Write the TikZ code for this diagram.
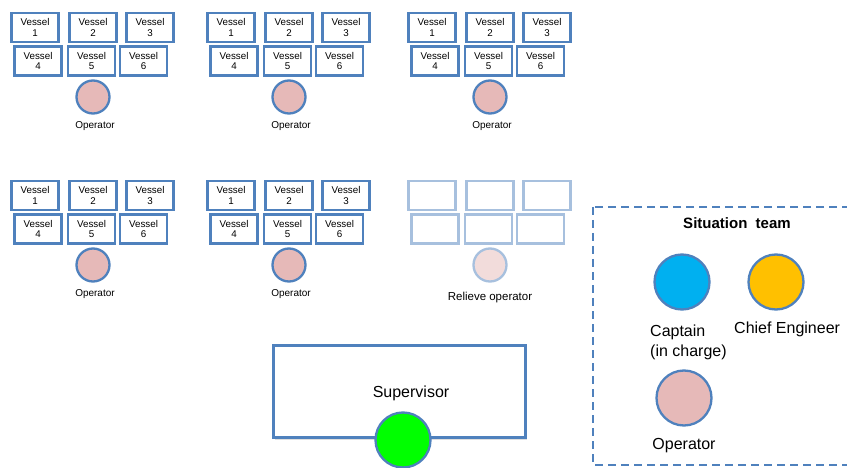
\documentclass[tikz,border=0pt]{standalone}
\usepackage{fontspec}
\setmainfont{Liberation Sans}
\usetikzlibrary{shadows}
\definecolor{boxblue}{RGB}{79,129,189}
\definecolor{oppink}{RGB}{230,185,184}
\definecolor{capblue}{RGB}{0,176,240}
\definecolor{chiefor}{RGB}{255,192,0}
\definecolor{supgreen}{RGB}{0,255,0}
\tikzset{
  vboxbase/.style={line width=2.3pt, fill=white, minimum width=47pt, minimum height=29pt,
    inner sep=0pt, align=center, font=\fontsize{9.8}{10.8}\selectfont},
  vbox/.style={vboxbase, draw=boxblue,
    drop shadow={opacity=0.25, shadow xshift=1pt, shadow yshift=-1.2pt}},
  fvbox/.style={vboxbase, draw=boxblue!50},
  opcircle/.style={circle, draw=boxblue, line width=2.3pt, fill=oppink, minimum size=33pt, inner sep=0pt},
  fopcircle/.style={circle, draw=boxblue!50, line width=2.3pt, fill=oppink!50, minimum size=33pt, inner sep=0pt},
  bigcircle/.style={circle, draw=boxblue, line width=2.3pt, minimum size=55pt, inner sep=0pt},
  smalllabel/.style={font=\fontsize{10}{12}\selectfont, inner sep=0pt},
  biglabel/.style={font=\fontsize{16}{20}\selectfont, inner sep=0pt},
}
\begin{document}
\begin{tikzpicture}[x=1pt,y=-1pt]
\useasboundingbox (0,0) rectangle (847,468);
\clip (0,0) rectangle (847,468);
% vessel groups
\foreach \g/\dx/\dy in {a/0/0, b/196/0, c/397/0, d/0/168, e/196/168}{
  \begin{scope}[shift={(\dx,\dy)}]
    \node[vbox] (\g v1) at (35,27.5) {Vessel\\1};
    \node[vbox] (\g v2) at (93,27.5) {Vessel\\2};
    \node[vbox] (\g v3) at (150,27.5) {Vessel\\3};
    \node[vbox] (\g v4) at (38,61) {Vessel\\4};
    \node[vbox] (\g v5) at (91.5,61) {Vessel\\5};
    \node[vbox] (\g v6) at (143.5,61) {Vessel\\6};
    \node[opcircle] (\g op) at (93,97) {};
    \node[smalllabel] (\g lab) at (95,126) {Operator};
  \end{scope}
}
% relieve group (faded)
\begin{scope}[shift={(397,168)}]
  \node[fvbox] (fv1) at (35,27.5) {};
  \node[fvbox] (fv2) at (93,27.5) {};
  \node[fvbox] (fv3) at (150,27.5) {};
  \node[fvbox] (fv4) at (38,61) {};
  \node[fvbox] (fv5) at (91.5,61) {};
  \node[fvbox] (fv6) at (143.5,61) {};
  \node[fopcircle] (fop) at (93,97) {};
\end{scope}
\node[font=\fontsize{11.5}{14}\selectfont, inner sep=0pt] (flab) at (490,298) {Relieve operator};
% supervisor
\node[draw=boxblue, line width=2.3pt, fill=white, minimum width=252pt, minimum height=92pt,
  drop shadow={opacity=0.25, shadow xshift=1.5pt, shadow yshift=-2pt}] (sup) at (399.5,391.5) {};
\node[biglabel] (suplab) at (411,393) {Supervisor};
\node[bigcircle, fill=supgreen] (supc) at (403,440) {};
% situation team
\draw[boxblue, line width=2pt, dash pattern=on 8pt off 5pt] (593,207) rectangle (860,465);
\node[font=\bfseries\fontsize{15}{18}\selectfont, inner sep=0pt] (st) at (737,223) {Situation\ \ team};
\node[bigcircle, fill=capblue] (cap) at (682,282) {};
\node[bigcircle, fill=chiefor] (chief) at (776,282) {};
\node[bigcircle, fill=oppink] (stop) at (684,398) {};
\node[biglabel, anchor=west, align=left] (caplab) at (650,342) {Captain\\(in charge)};
\node[biglabel, anchor=west] (chieflab) at (734,329) {Chief Engineer};
\node[biglabel] (stoplab) at (684,446) {Operator};
\end{tikzpicture}
\end{document}
